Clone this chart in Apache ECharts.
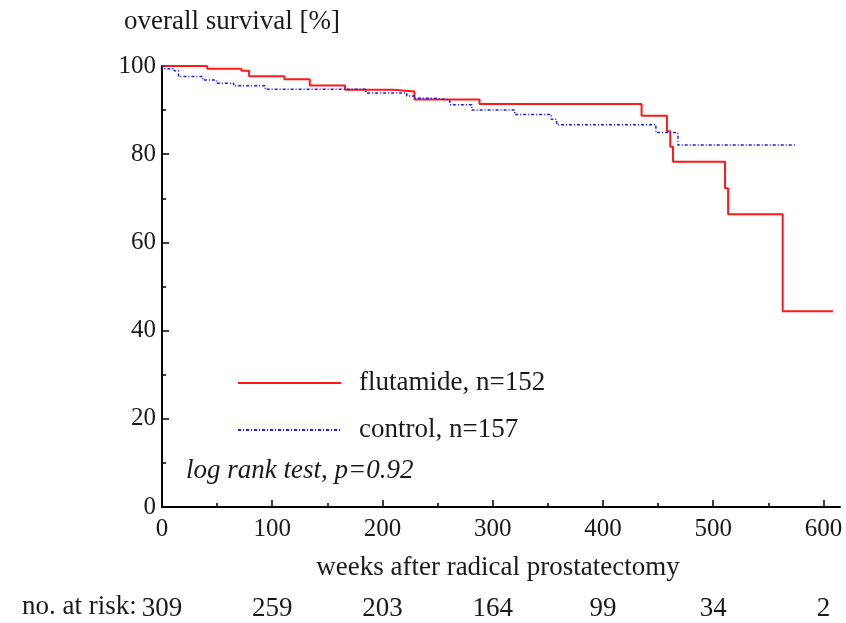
<!DOCTYPE html>
<html>
<head>
<meta charset="utf-8">
<script src="https://cdn.jsdelivr.net/npm/echarts@6/dist/echarts.min.js"></script>
<style>
  html, body { margin: 0; padding: 0; background: #ffffff; }
  #chart { width: 846px; height: 623px; }
</style>
</head>
<body>
<div id="chart"></div>
<script>
// Kaplan-Meier overall survival, flutamide arm
const flutamideWeeks    = [0, 41, 72, 79, 111, 134, 166, 210, 229, 288, 435, 458, 461, 463.5, 510.7, 513.5, 563, 608.6];
const flutamideSurvival = [100, 99.4, 98.9, 97.7, 97.0, 95.6, 94.6, 94.2, 92.4, 91.4, 88.7, 85.2, 81.7, 78.3, 72.3, 66.4, 44.4, 44.4];

// Kaplan-Meier overall survival, control arm
const controlWeeks    = [0, 2.5, 11, 15, 37, 49.5, 65, 93.6, 185, 222, 229, 247, 261, 281, 320, 353, 358, 448, 468, 574];
const controlSurvival = [100, 99.4, 98.9, 97.6, 96.8, 96.1, 95.5, 94.7, 93.9, 93.2, 92.7, 92.3, 91.2, 90.0, 89.0, 87.9, 86.7, 84.9, 82.1, 82.1];

// Axis ticks and patients at risk below each week tick
const weekTicks     = [0, 100, 200, 300, 400, 500, 600];
const survivalTicks = [0, 20, 40, 60, 80, 100];
const atRisk        = [309, 259, 203, 164, 99, 34, 2];

const seriesNames = ['flutamide, n=152', 'control, n=157'];

const pairs = (xs, ys) => xs.map((x, i) => [x, ys[i]]);

const FONT = '"Liberation Serif", "DejaVu Serif", serif';
const INK = '#1a1a1a';

const chart = echarts.init(document.getElementById('chart'), null, { renderer: 'canvas' });

chart.setOption({
  animation: false,
  backgroundColor: '#ffffff',
  textStyle: { fontFamily: FONT, color: INK },
  title: {
    text: 'overall survival [%]',
    left: 119,
    top: 3,
    textStyle: { fontFamily: FONT, fontSize: 27, fontWeight: 'normal', color: INK }
  },
  grid: { left: 162, right: 6, top: 66, bottom: 116, containLabel: false },
  legend: {
    orient: 'vertical',
    left: 237,
    top: 368,
    padding: 0,
    itemWidth: 103,
    itemHeight: 14,
    itemGap: 17,
    data: seriesNames,
    itemStyle: { opacity: 0 },
    textStyle: {
      fontFamily: FONT, fontSize: 27, color: INK,
      lineHeight: 30, padding: [0, 0, 0, 13]
    }
  },
  xAxis: [
    {
      type: 'value',
      min: 0,
      max: 615,
      interval: 100,
      name: 'weeks after radical prostatectomy',
      nameLocation: 'middle',
      nameGap: 47,
      nameTextStyle: { fontFamily: FONT, fontSize: 27, color: INK, padding: [0, 6, 0, 0] },
      axisLine: { show: true, onZero: false, lineStyle: { color: '#000', width: 2 } },
      axisTick: { show: true, inside: true, length: 7, customValues: weekTicks, lineStyle: { color: '#000', width: 1.5 } },
      minorTick: { show: true, splitNumber: 2, length: 4, lineStyle: { color: '#000', width: 1.5 } },
      splitLine: { show: false },
      axisLabel: {
        customValues: weekTicks,
        margin: 10,
        fontFamily: FONT, fontSize: 25, color: INK
      }
    },
    {
      type: 'value',
      position: 'bottom',
      offset: 79,
      min: 0,
      max: 615,
      interval: 100,
      axisLine: { show: false },
      axisTick: { show: false },
      splitLine: { show: false },
      axisLabel: {
        customValues: weekTicks,
        margin: 9,
        fontFamily: FONT, fontSize: 27, color: INK,
        formatter: v => String(atRisk[weekTicks.indexOf(v)])
      }
    }
  ],
  yAxis: {
    type: 'value',
    min: 0,
    max: 100,
    interval: 20,
    axisLine: { show: true, onZero: false, lineStyle: { color: '#000', width: 2 } },
    axisTick: { show: true, inside: true, length: 7, customValues: survivalTicks, lineStyle: { color: '#000', width: 1.5 } },
    minorTick: { show: true, splitNumber: 2, length: 4, lineStyle: { color: '#000', width: 1.5 } },
    splitLine: { show: false },
    axisLabel: {
      customValues: survivalTicks,
      margin: 6,
      fontFamily: FONT, fontSize: 25, color: INK
    }
  },
  graphic: [
    {
      type: 'text',
      left: 186,
      top: 457,
      style: {
        text: 'log rank test, p=0.92',
        font: 'italic 27px ' + FONT,
        fill: INK
      }
    },
    {
      type: 'text',
      left: 22,
      top: 593,
      style: {
        text: 'no. at risk:',
        font: '27px ' + FONT,
        fill: INK
      }
    }
  ],
  series: [
    {
      name: seriesNames[0],
      type: 'line',
      step: 'end',
      symbol: 'none',
      xAxisIndex: 0,
      data: pairs(flutamideWeeks, flutamideSurvival),
      lineStyle: { color: '#ff1a1a', width: 2 },
      itemStyle: { color: '#ff1a1a' },
      z: 3
    },
    {
      name: seriesNames[1],
      type: 'line',
      step: 'end',
      symbol: 'none',
      xAxisIndex: 0,
      data: pairs(controlWeeks, controlSurvival),
      lineStyle: { color: '#1a1aff', width: 1.5, type: [3, 2, 1, 2] },
      itemStyle: { color: '#1a1aff' },
      z: 4
    }
  ]
});
</script>
</body>
</html>
